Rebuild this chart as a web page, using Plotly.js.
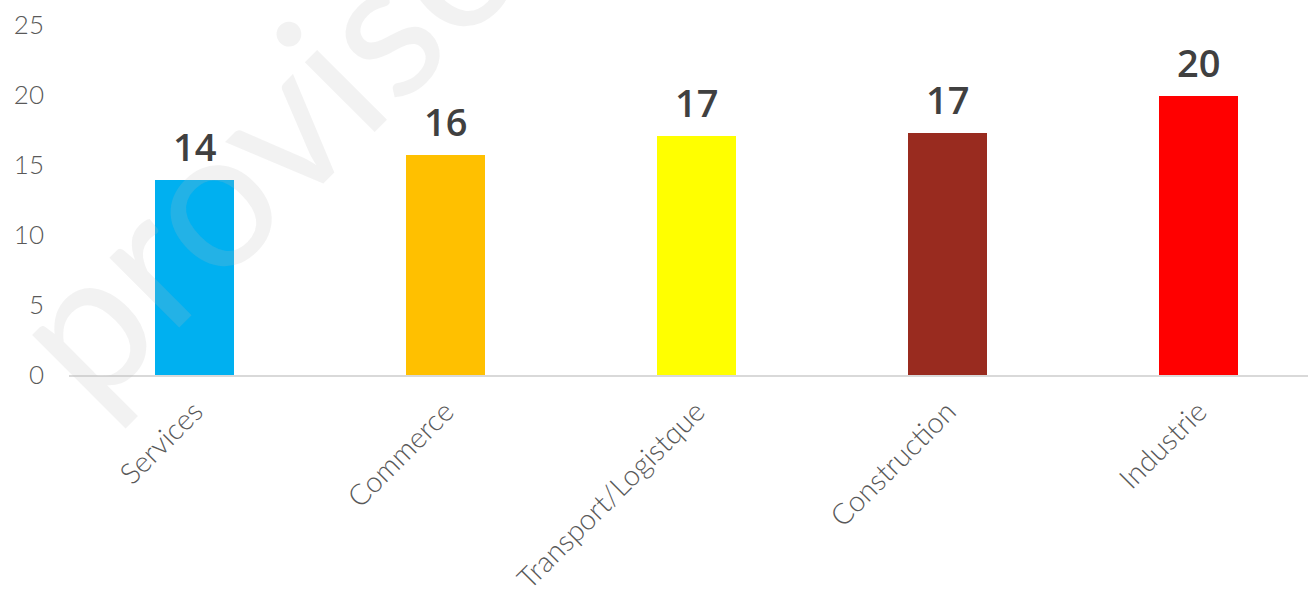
<!DOCTYPE html>
<html>
<head>
<meta charset="utf-8">
<script src="https://cdn.plot.ly/plotly-3.0.1.min.js"></script>
<style>
  html, body { margin: 0; padding: 0; background: #ffffff; }
  #chart { width: 1308px; height: 602px; }
</style>
</head>
<body>
<div id="chart"></div>
<script>
// ---- data ----
const categories = ["Services", "Commerce", "Transport/Logistque", "Construction", "Industrie"];
const values = [13.9, 15.7, 17.1, 17.3, 19.9];
const barColors = ["#00B0F0", "#FFC000", "#FFFF00", "#992B1F", "#FF0000"];
const yTickValues = [0, 5, 10, 15, 20, 25];
const watermarkText = "provisoire";

// ---- chart ----
const trace = {
  type: "bar",
  x: categories,
  y: values,
  width: 0.315,
  marker: { color: barColors, line: { width: 0 } },
  hoverinfo: "none",
  showlegend: false
};

const annotations = [
  {
    text: watermarkText,
    xref: "paper", yref: "paper",
    x: 0.217, y: 0.89,
    xanchor: "center", yanchor: "middle",
    textangle: -45,
    showarrow: false,
    font: { family: "Lato, 'Open Sans', sans-serif", size: 195, color: "rgba(185,185,185,0.19)" }
  }
];
categories.forEach((c, i) => {
  annotations.push({
    x: c, y: values[i],
    xref: "x", yref: "y",
    text: String(Math.round(values[i])),
    showarrow: false,
    xanchor: "center", yanchor: "bottom",
    yshift: 6,
    font: { family: "'Open Sans', sans-serif", size: 38, color: "#404040", weight: 600 }
  });
});

const layout = {
  width: 1308, height: 602,
  margin: { l: 69, r: 0, t: 25, b: 227 },
  paper_bgcolor: "#ffffff",
  plot_bgcolor: "#ffffff",
  xaxis: {
    type: "category",
    range: [-0.5, 4.436],
    showline: true, linecolor: "#d9d9d9", linewidth: 2,
    showgrid: false, zeroline: false, ticks: "",
    tickangle: -45,
    ticklabelstandoff: 6,
    tickfont: { family: "Lato, sans-serif", size: 29, color: "#595959", weight: 300 }
  },
  yaxis: {
    range: [0, 25],
    tickvals: yTickValues,
    ticktext: yTickValues.map(String),
    showline: false, showgrid: false, zeroline: false, ticks: "",
    ticklabelstandoff: 24,
    tickfont: { family: "Lato, sans-serif", size: 26, color: "#595959", weight: 300 }
  },
  annotations: annotations,
  bargap: 0
};

Plotly.newPlot("chart", [trace], layout, { displayModeBar: false, staticPlot: true });
</script>
</body>
</html>
